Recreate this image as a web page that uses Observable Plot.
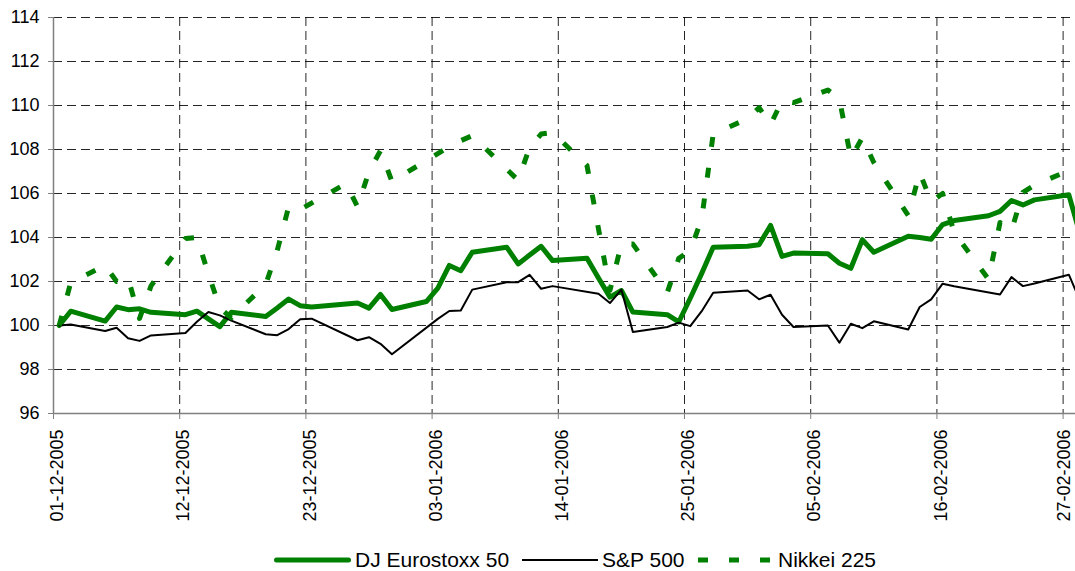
<!DOCTYPE html>
<html>
<head>
<meta charset="utf-8">
<script src="https://cdn.jsdelivr.net/npm/d3@7"></script>
<script src="https://cdn.jsdelivr.net/npm/@observablehq/plot@0.6"></script>
<style>
  html, body { margin: 0; padding: 0; background: #fff; overflow: hidden; }
  body { width: 1075px; height: 571px; font-family: "Liberation Sans", Arial, sans-serif; }
  #chart svg { display: block; overflow: hidden; }
  #legend { position: relative; height: 26px; margin-top: 2px; }
  #legend .item { position: absolute; top: 0; display: flex; align-items: center; height: 26px; font-size: 21px; line-height: 26px; color: #000; white-space: nowrap; }
  #legend svg { display: block; }
</style>
</head>
<body>
<div id="chart"></div>
<div id="legend"></div>
<script>
// ---------- data (index, 01-12-2005 = 100) ----------
const eurostoxxDates = [
  "2005-12-01","2005-12-02","2005-12-05","2005-12-06","2005-12-07","2005-12-08","2005-12-09",
  "2005-12-12","2005-12-13","2005-12-14","2005-12-15","2005-12-16","2005-12-19","2005-12-20",
  "2005-12-21","2005-12-22","2005-12-23","2005-12-27","2005-12-28","2005-12-29","2005-12-30",
  "2006-01-02","2006-01-03","2006-01-04","2006-01-05","2006-01-06","2006-01-09","2006-01-10",
  "2006-01-11","2006-01-12","2006-01-13","2006-01-16","2006-01-17","2006-01-18","2006-01-19",
  "2006-01-20","2006-01-23","2006-01-24","2006-01-25","2006-01-26","2006-01-27","2006-01-30",
  "2006-01-31","2006-02-01","2006-02-02","2006-02-03","2006-02-06","2006-02-07","2006-02-08",
  "2006-02-09","2006-02-10","2006-02-13","2006-02-14","2006-02-15","2006-02-16","2006-02-17",
  "2006-02-20","2006-02-21","2006-02-22","2006-02-23","2006-02-24","2006-02-27","2006-02-28"
];
const eurostoxxValues = [
  100.0, 100.65, 100.2, 100.84, 100.72, 100.76, 100.6,
  100.49, 100.65, 100.3, 99.95, 100.6, 100.41, 100.8,
  101.2, 100.9, 100.84, 101.02, 100.79, 101.41, 100.73,
  101.09, 101.7, 102.73, 102.49, 103.33, 103.56, 102.8,
  103.2, 103.6, 102.95, 103.06, 102.16, 101.29, 101.59,
  100.61, 100.49, 100.16, 101.24, 102.37, 103.56, 103.6,
  103.67, 104.55, 103.14, 103.29, 103.26, 102.83, 102.6,
  103.9, 103.33, 104.06, 104.0, 103.92, 104.59, 104.77,
  104.99, 105.19, 105.68, 105.48, 105.71, 105.94, 104.1
];

const sp500Dates = [
  "2005-12-01","2005-12-02","2005-12-05","2005-12-06","2005-12-07","2005-12-08","2005-12-09",
  "2005-12-12","2005-12-13","2005-12-14","2005-12-15","2005-12-16","2005-12-19","2005-12-20",
  "2005-12-21","2005-12-22","2005-12-23","2005-12-27","2005-12-28","2005-12-29","2005-12-30",
  "2006-01-03","2006-01-04","2006-01-05","2006-01-06","2006-01-09","2006-01-10","2006-01-11",
  "2006-01-12","2006-01-13","2006-01-17","2006-01-18","2006-01-19","2006-01-20","2006-01-23",
  "2006-01-24","2006-01-25","2006-01-26","2006-01-27","2006-01-30","2006-01-31",
  "2006-02-01","2006-02-02","2006-02-03","2006-02-06","2006-02-07","2006-02-08","2006-02-09",
  "2006-02-10","2006-02-13","2006-02-14","2006-02-15","2006-02-16","2006-02-17","2006-02-21",
  "2006-02-22","2006-02-23","2006-02-24","2006-02-27","2006-02-28"
];
const sp500Values = [
  100.0, 100.05, 99.75, 99.9, 99.42, 99.3, 99.55,
  99.66, 100.17, 100.61, 100.46, 100.22, 99.6, 99.56,
  99.84, 100.28, 100.31, 99.33, 99.47, 99.17, 98.69,
  100.3, 100.66, 100.68, 101.63, 101.97, 101.97, 102.3,
  101.67, 101.79, 101.44, 101.02, 101.63, 99.7, 99.93,
  100.13, 99.97, 100.65, 101.49, 101.59, 101.19,
  101.4, 100.49, 99.93, 100.0, 99.22, 100.08, 99.88,
  100.19, 99.82, 100.84, 101.19, 101.9, 101.78, 101.41,
  102.2, 101.79, 101.91, 102.31, 101.1
];

const nikkeiDates = [
  "2005-12-01","2005-12-02","2005-12-05","2005-12-06","2005-12-07","2005-12-08","2005-12-09",
  "2005-12-12","2005-12-13","2005-12-14","2005-12-15","2005-12-16","2005-12-19","2005-12-20",
  "2005-12-21","2005-12-22","2005-12-26","2005-12-27","2005-12-28","2005-12-29","2005-12-30",
  "2006-01-04","2006-01-05","2006-01-06","2006-01-10","2006-01-11","2006-01-12","2006-01-13",
  "2006-01-16","2006-01-17","2006-01-18","2006-01-19","2006-01-20","2006-01-23","2006-01-24",
  "2006-01-25","2006-01-26","2006-01-27","2006-01-30","2006-01-31",
  "2006-02-01","2006-02-02","2006-02-03","2006-02-06","2006-02-07","2006-02-08","2006-02-09",
  "2006-02-10","2006-02-13","2006-02-14","2006-02-15","2006-02-16","2006-02-17","2006-02-20",
  "2006-02-21","2006-02-22","2006-02-23","2006-02-24","2006-02-27","2006-02-28"
];
const nikkeiValues = [
  100.0, 101.95, 102.73, 102.0, 102.15, 100.32, 101.8,
  103.95, 104.0, 102.35, 100.8, 100.35, 101.87, 103.4,
  105.4, 105.27, 106.45, 105.4, 107.0, 107.95, 106.55,
  108.13, 108.4, 108.63, 106.6, 108.1, 108.7, 108.77,
  107.27, 104.4, 101.6, 103.7, 103.7, 101.5, 103.05,
  103.4, 104.85, 108.7, 109.4, 109.9,
  109.13, 110.22, 110.13, 110.7, 110.3, 107.6, 108.54,
  107.41, 105.0, 106.95, 105.63, 106.0, 104.23, 102.1,
  104.68, 104.32, 106.05, 106.38, 107.04, 107.1
];

const seriesNames = ["DJ Eurostoxx 50", "S&P 500", "Nikkei 225"];
const yTicks = [96, 98, 100, 102, 104, 106, 108, 110, 112, 114];
const xTickDates = ["2005-12-01","2005-12-12","2005-12-23","2006-01-03","2006-01-14",
                    "2006-01-25","2006-02-05","2006-02-16","2006-02-27"];

// ---------- build ----------
const DAY = 864e5;
const midDay = s => new Date(Date.parse(s + "T12:00:00Z"));   // Excel places each day mid-slot
const dayStart = s => new Date(Date.parse(s + "T00:00:00Z"));
const toRows = (dates, values) => dates.map((d, i) => ({date: midDay(d), value: values[i]}));

const eurostoxx = toRows(eurostoxxDates, eurostoxxValues);
const sp500 = toRows(sp500Dates, sp500Values);
const nikkei = toRows(nikkeiDates, nikkeiValues);
const xTicks = xTickDates.map(dayStart);

const GREEN = "#008000";
const H = 545;
const xStart = dayStart(xTickDates[0]);
const xEnd = new Date(+xStart + 89.08 * DAY);
const fmt = d3.utcFormat("%d-%m-%Y");

const chart = Plot.plot({
  width: 1075,
  height: H,
  marginLeft: 53,
  marginRight: 0,
  marginTop: 17,
  marginBottom: H - 413,
  style: {fontFamily: '"Liberation Sans", Arial, sans-serif', fontSize: "18px", background: "#fff", overflow: "hidden"},
  x: {type: "utc", domain: [xStart, xEnd]},
  y: {domain: [96, 114]},
  marks: [
    Plot.gridY(yTicks.slice(1), {stroke: "#000", strokeOpacity: 0.85, strokeWidth: 1, strokeDasharray: "9,5"}),
    Plot.gridX(xTicks.slice(1), {stroke: "#000", strokeOpacity: 0.85, strokeWidth: 1, strokeDasharray: "9,5"}),
    Plot.lineY(eurostoxx, {x: "date", y: "value", stroke: GREEN, strokeWidth: 5, strokeLinejoin: "round", strokeLinecap: "round", clip: true}),
    Plot.lineY(sp500, {x: "date", y: "value", stroke: "#000", strokeWidth: 2, strokeLinejoin: "round", clip: true}),
    Plot.lineY(nikkei, {x: "date", y: "value", stroke: GREEN, strokeWidth: 5, strokeDasharray: "10,21", strokeLinejoin: "round", strokeLinecap: "butt", clip: true}),
    Plot.ruleY([96], {stroke: "#808080", strokeWidth: 1.5}),
    Plot.ruleX([xStart], {stroke: "#808080", strokeWidth: 1.5}),
    Plot.axisY(yTicks, {tickSize: 5, tickPadding: 9, stroke: "#808080", fill: "#000", label: null, tickFormat: d => String(d)}),
    // tick marks only
    Plot.axisX(xTicks, {tickSize: 6, stroke: "#808080", fill: "none", label: null, tickFormat: fmt}),
    // rotated labels (last one nudged less so it stays inside the picture)
    Plot.axisX(xTicks.slice(0, -1), {tickRotate: -90, tickSize: 6, tickPadding: 10, stroke: "none", fill: "#000", label: null, tickFormat: fmt, dx: 4}),
    Plot.axisX(xTicks.slice(-1), {tickRotate: -90, tickSize: 6, tickPadding: 10, stroke: "none", fill: "#000", label: null, tickFormat: fmt, dx: 1.5})
  ]
});
document.getElementById("chart").appendChild(chart);

// ---------- legend (HTML, below the SVG) ----------
const legendItems = [
  {name: seriesNames[0], left: 274, len: 77, stroke: GREEN, width: 5, dash: null, cap: "round"},
  {name: seriesNames[1], left: 522, len: 76, stroke: "#000", width: 2, dash: null, cap: "butt"},
  {name: seriesNames[2], left: 698, len: 72, stroke: GREEN, width: 5, dash: "10,21", cap: "butt"}
];
const legend = document.getElementById("legend");
legendItems.forEach((it, i) => {
  const div = document.createElement("div");
  div.className = "item";
  div.style.left = it.left + "px";
  const gap = i === 2 ? 8 : 4;
  div.innerHTML =
    `<svg width="${it.len}" height="10"><line x1="${it.cap === "round" ? 2.5 : 0}" y1="5" x2="${it.len - (it.cap === "round" ? 2.5 : 0)}" y2="5" stroke="${it.stroke}" stroke-width="${it.width}" stroke-linecap="${it.cap}" ${it.dash ? `stroke-dasharray="${it.dash}"` : ""}/></svg>` +
    `<span style="margin-left:${gap}px">${it.name.replace("&", "&amp;")}</span>`;
  legend.appendChild(div);
});
</script>
</body>
</html>
